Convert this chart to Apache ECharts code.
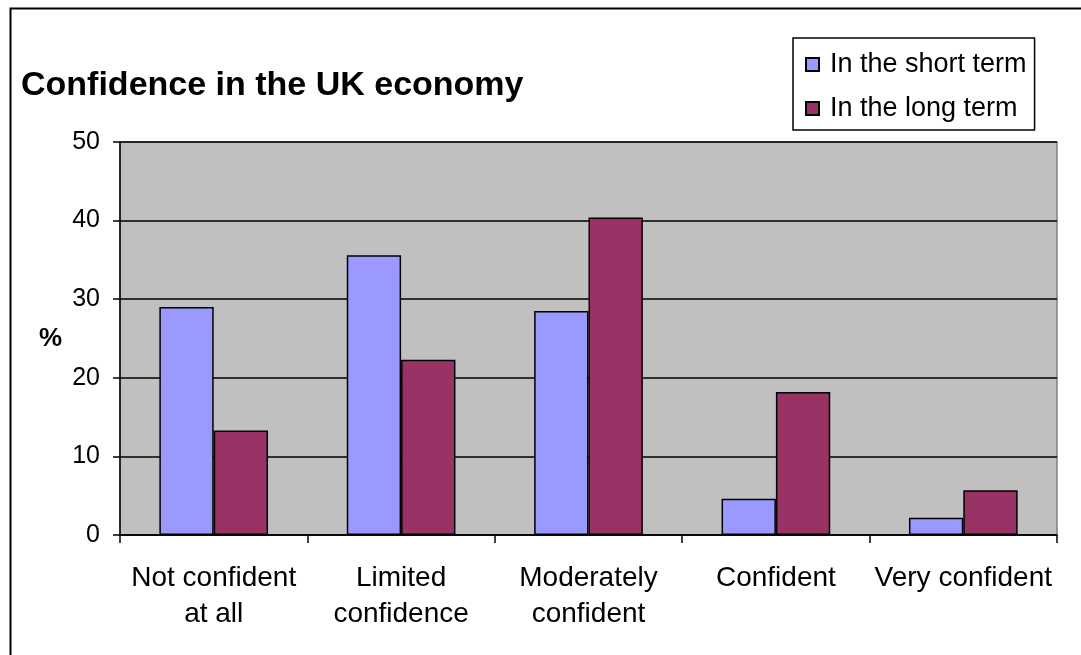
<!DOCTYPE html>
<html><head><meta charset="utf-8">
<script src="https://cdn.jsdelivr.net/npm/echarts@6/dist/echarts.min.js"></script>
<style>html,body{margin:0;padding:0;background:#fff}#c{width:1081px;height:655px}</style>
</head><body><div id="c"></div>
<script>
const categories = ["Not confident\nat all", "Limited\nconfidence", "Moderately\nconfident", "Confident", "Very confident"];
const shortTerm = [29.0, 35.6, 28.5, 4.6, 2.2];
const longTerm = [13.3, 22.3, 40.4, 18.2, 5.7];
const seriesNames = ["In the short term", "In the long term"];

const chart = echarts.init(document.getElementById('c'));
const font = 'Liberation Sans, Arial, sans-serif';
chart.setOption({
  animation: false,
  backgroundColor: '#fff',
  textStyle: {fontFamily: font},
  title: {text: 'Confidence in the UK economy', left: 16, top: 64,
    textStyle: {fontFamily: font, fontSize: 34, fontWeight: 'bold', color: '#000'}},
  legend: {
    orient: 'vertical', left: 793, top: 38, width: 240,
    padding: [13, 8, 8, 12], itemGap: 17,
    borderColor: '#000', borderWidth: 1.5, backgroundColor: '#fff',
    icon: 'rect', itemWidth: 13, itemHeight: 13,
    textStyle: {fontFamily: font, fontSize: 27, color: '#000', padding: [0, 0, 0, 6]},
    data: seriesNames
  },
  grid: {left: 120, top: 142, right: 24, bottom: 120, show: true,
    backgroundColor: '#C0C0C0', borderColor: '#808080', borderWidth: 1.5},
  xAxis: {type: 'category', data: categories,
    axisLine: {lineStyle: {color: '#000', width: 1.5}},
    axisTick: {show: true, length: 8, lineStyle: {color: '#000', width: 1.5}},
    axisLabel: {fontFamily: font, fontSize: 28, color: '#000', lineHeight: 36, margin: 25, interval: 0}},
  yAxis: {type: 'value', min: 0, max: 50, interval: 10,
    name: '%', nameLocation: 'middle', nameGap: 58, nameRotate: 0,
    nameTextStyle: {fontFamily: font, fontSize: 26, fontWeight: 'bold', color: '#000'},
    axisLine: {show: true, lineStyle: {color: '#000', width: 1.5}},
    axisTick: {show: true, length: 7, lineStyle: {color: '#000', width: 1.5}},
    axisLabel: {fontFamily: font, fontSize: 25, color: '#000', margin: 20},
    splitLine: {lineStyle: {color: '#000', width: 1.5}}},
  series: [
    {name: seriesNames[0], type: 'bar', data: shortTerm, barGap: '0%', barCategoryGap: '42%',
     itemStyle: {color: '#9999FF', borderColor: '#000', borderWidth: 1.5}},
    {name: seriesNames[1], type: 'bar', data: longTerm,
     itemStyle: {color: '#993366', borderColor: '#000', borderWidth: 1.5}}
  ],
  graphic: [{type: 'rect', shape: {x: 10.5, y: 8.5, width: 1200, height: 800},
    style: {fill: 'none', stroke: '#000', lineWidth: 2}, silent: true, z: 100}]
});
</script></body></html>
